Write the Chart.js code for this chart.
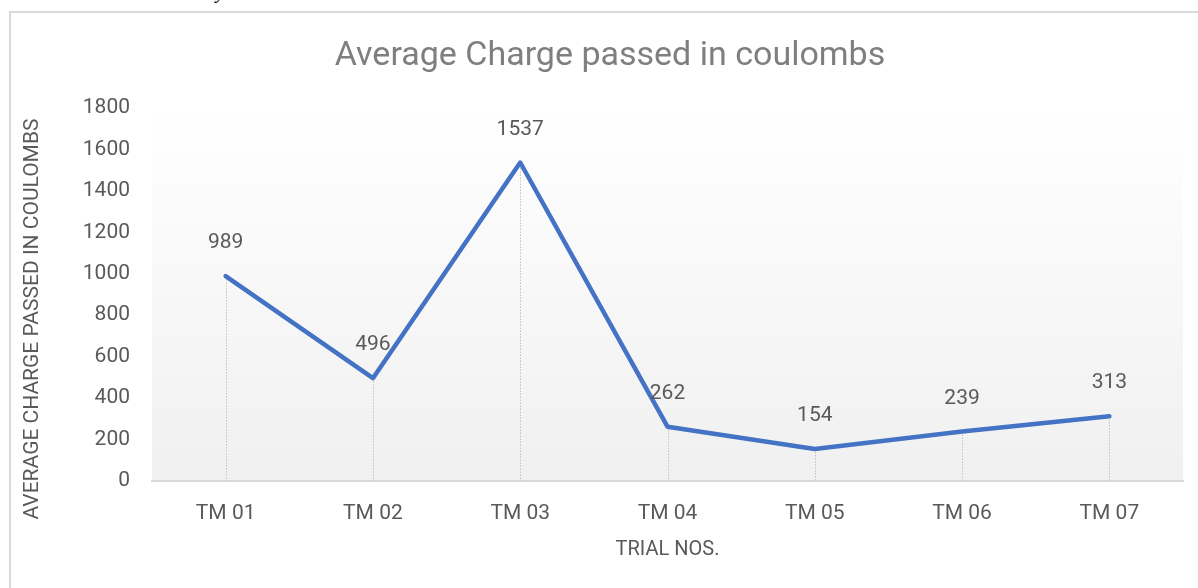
<!DOCTYPE html>
<html>
<head>
<meta charset="utf-8">
<script src="https://cdn.jsdelivr.net/npm/chart.js@4.4.1/dist/chart.umd.min.js"></script>
<style>
  html, body { margin: 0; padding: 0; background: #ffffff; width: 1198px; height: 588px; overflow: hidden; }
  #cap { position: absolute; left: 0px; top: -20px; font-family: "Liberation Serif", "DejaVu Serif", serif; font-style: italic; font-size: 20px; color: #000; white-space: nowrap; }
  #box { position: absolute; left: 9px; top: 11px; width: 1200px; height: 600px; border: 2px solid #d9d9d9; box-sizing: border-box; background: #fff; }
  #wrap { position: absolute; left: 11px; top: 13px; width: 1186px; height: 575px; }
</style>
</head>
<body>
<div id="cap">a Chloride ion Permeability Test.</div>
<div id="box"></div>
<div id="wrap"><canvas id="c" width="1186" height="575"></canvas></div>
<script>
const categories = ["TM 01", "TM 02", "TM 03", "TM 04", "TM 05", "TM 06", "TM 07"];
const chargeValues = [989, 496, 1537, 262, 154, 239, 313];
const yTicks = [0, 200, 400, 600, 800, 1000, 1200, 1400, 1600, 1800];
const chartTitle = 'Average Charge passed in coulombs';
const yTitle = 'AVERAGE CHARGE PASSED IN COULOMBS';

const FONT = '"Roboto", "Liberation Sans", sans-serif';
const TXT = '#595959';

const bgPlugin = {
  id: 'bg',
  beforeDraw(chart) {
    const { ctx, chartArea: a } = chart;
    const g = ctx.createLinearGradient(0, a.top, 0, a.bottom);
    g.addColorStop(0, '#ffffff');
    g.addColorStop(1, '#f0f0f0');
    ctx.save();
    ctx.fillStyle = g;
    ctx.fillRect(a.left, a.top, a.right - a.left, a.bottom - a.top);
    ctx.restore();
  }
};

const textPlugin = {
  id: 'texts',
  afterDraw(chart) {
    const { ctx } = chart;
    ctx.save();
    ctx.font = '34px ' + FONT;
    ctx.fillStyle = '#7f7f7f';
    ctx.textAlign = 'center';
    ctx.textBaseline = 'middle';
    ctx.fillText(chartTitle, 599, 43);
    ctx.translate(22, 306);
    ctx.rotate(-Math.PI / 2);
    ctx.font = '21px ' + FONT;
    ctx.fillStyle = TXT;
    ctx.fillText(yTitle, 0, 0);
    ctx.restore();
  }
};

const dropPlugin = {
  id: 'drop',
  beforeDatasetsDraw(chart) {
    const { ctx, scales } = chart;
    const meta = chart.getDatasetMeta(0);
    ctx.save();
    ctx.strokeStyle = '#c0c0c0';
    ctx.lineWidth = 1;
    ctx.setLineDash([1.5, 1.5]);
    meta.data.forEach((pt) => {
      const x = Math.round(pt.x) + 0.5;
      ctx.beginPath();
      ctx.moveTo(x, pt.y);
      ctx.lineTo(x, scales.y.getPixelForValue(0));
      ctx.stroke();
    });
    ctx.restore();
  }
};

const labelPlugin = {
  id: 'labels',
  afterDatasetsDraw(chart) {
    const { ctx } = chart;
    const meta = chart.getDatasetMeta(0);
    ctx.save();
    ctx.font = '21px ' + FONT;
    ctx.fillStyle = TXT;
    ctx.textAlign = 'center';
    ctx.textBaseline = 'middle';
    meta.data.forEach((pt, i) => {
      ctx.fillText(String(chargeValues[i]), pt.x, pt.y - 33);
    });
    ctx.restore();
  }
};

new Chart(document.getElementById('c'), {
  type: 'line',
  data: {
    labels: categories,
    datasets: [{
      data: chargeValues,
      borderColor: '#4472C4',
      borderWidth: 4.5,
      borderCapStyle: 'round',
      borderJoinStyle: 'round',
      pointRadius: 0,
      tension: 0,
      fill: false
    }]
  },
  options: {
    responsive: false,
    animation: false,
    devicePixelRatio: 1,
    layout: { padding: { left: 0, right: 14, top: 95, bottom: 0 } },
    plugins: {
      legend: { display: false },
      tooltip: { enabled: false },
      title: { display: false }
    },
    scales: {
      x: {
        offset: true,
        grid: { display: false, drawTicks: false },
        border: { display: true, color: '#d9d9d9', width: 2 },
        ticks: { color: TXT, font: { family: FONT, size: 21 }, padding: 20, maxRotation: 0 },
        title: { display: true, text: 'TRIAL NOS.', color: TXT, font: { family: FONT, size: 20, lineHeight: 1.2 }, padding: { top: 0, bottom: 26 } },
        afterFit(s) { s.height = 107; }
      },
      y: {
        min: 0,
        max: 1800,
        afterBuildTicks(s) { s.ticks = yTicks.map(v => ({ value: v })); },
        grid: { display: false, drawTicks: false },
        border: { display: false },
        ticks: { color: TXT, font: { family: FONT, size: 21 }, padding: 22, callback: (v) => String(v) },
        title: { display: false },
        afterFit(s) { s.width = 141; }
      }
    }
  },
  plugins: [bgPlugin, dropPlugin, labelPlugin, textPlugin]
});
</script>
</body>
</html>
